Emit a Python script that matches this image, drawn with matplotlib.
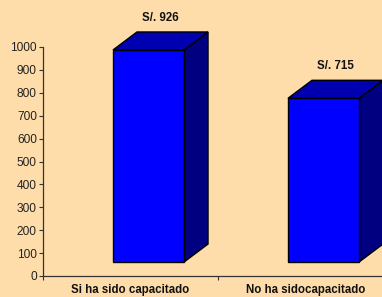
import matplotlib
matplotlib.use("Agg")
import matplotlib.pyplot as plt
from matplotlib.patches import Polygon

categories = ["Si ha sido capacitado", "No ha sidocapacitado"]
values = [926, 715]
labels = ["S/. 926", "S/. 715"]
yticks = list(range(0, 1001, 100))

plt.rcParams['font.family'] = ['Liberation Sans', 'DejaVu Sans']
BG = "#FFDDAA"
W, H = 382, 297
fig = plt.figure(figsize=(W/100, H/100), dpi=100, facecolor=BG)
# axes from x=43px to 393px, y=276px (0) to 47px (1000)
ax = fig.add_axes([43/W, (H-276)/H, 350/W, (276-47)/H])
ax.set_facecolor(BG)
ax.set_xlim(0, 2)
ax.set_ylim(0, 1000)

base = 61
dx, dy = 0.137, 78.6
x0, wid = 0.4, 0.406
front_c, top_c, side_c = "#0000FF", "#0000B0", "#000080"

for i, v in enumerate(values):
    L = i + x0
    R = L + wid
    B = base
    T = base + v
    front = Polygon([(L, B), (R, B), (R, T), (L, T)], closed=True,
                    facecolor=front_c, edgecolor="black", lw=1, clip_on=False, zorder=3)
    top = Polygon([(L, T), (R, T), (R+dx, T+dy), (L+dx, T+dy)], closed=True,
                  facecolor=top_c, edgecolor="black", lw=1, clip_on=False, zorder=3)
    side = Polygon([(R, B), (R+dx, B+dy), (R+dx, T+dy), (R, T)], closed=True,
                   facecolor=side_c, edgecolor="black", lw=1, clip_on=False, zorder=3)
    for p in (side, top, front):
        ax.add_patch(p)
    ax.text(L + (wid+dx)/2, T + dy + 61, labels[i], ha="center", va="center",
            fontsize=8.3, fontweight="bold", color="#111111", clip_on=False)

ax.set_yticks(yticks)
ax.set_yticklabels([str(t) for t in yticks], fontsize=8.6, color="#222222")
ax.set_xticks([0, 1, 2])
ax.set_xticklabels([])
ax.set_xticks([0.5, 1.5], minor=True)
ax.set_xticklabels(categories, minor=True, fontsize=8.3, fontweight="bold", color="#111111")
ax.tick_params(axis="x", which="minor", length=0, pad=6)
ax.tick_params(axis="x", which="major", length=3, width=0.8, color="#333333")
ax.tick_params(axis="y", length=3, width=0.8, color="#333333", pad=1.5)
for s in ("top", "right"):
    ax.spines[s].set_visible(False)
for s in ("left", "bottom"):
    ax.spines[s].set_color("#333333")
    ax.spines[s].set_linewidth(0.9)

fig.savefig("out.png", dpi=100, facecolor=BG)
